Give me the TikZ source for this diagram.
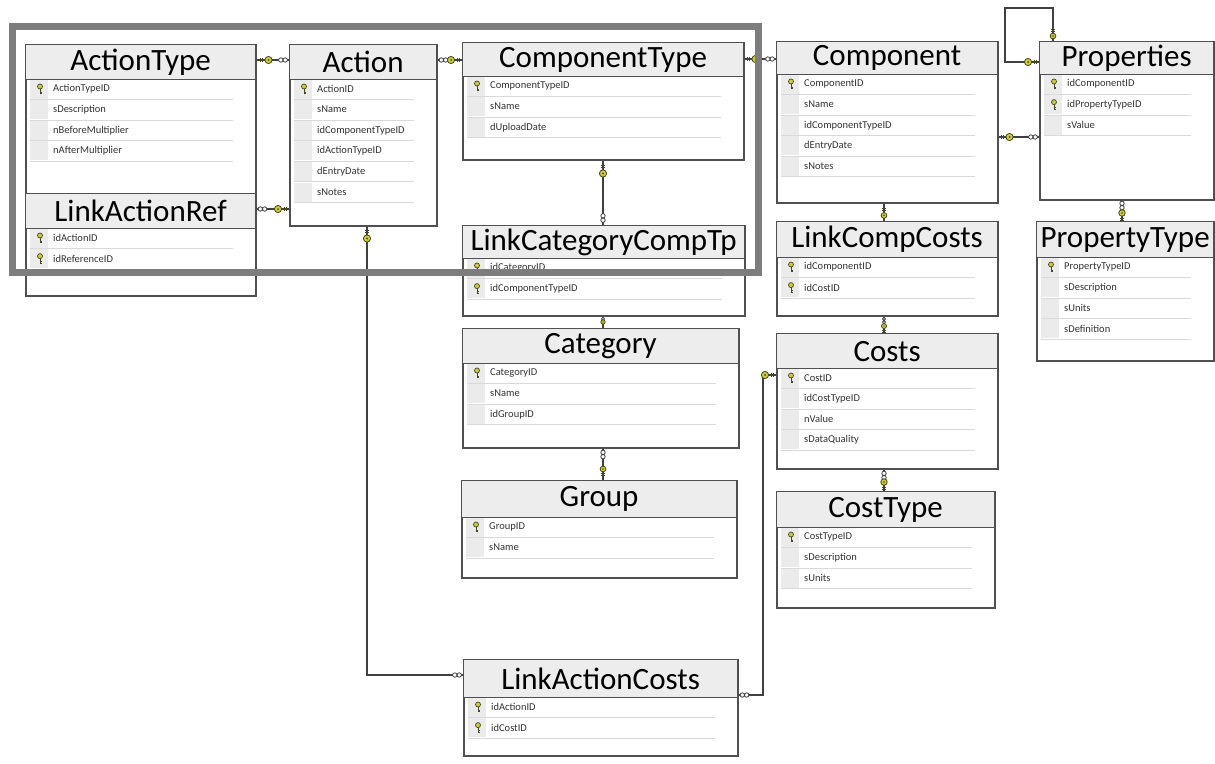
\documentclass[tikz,border=0pt]{standalone}
\usepackage{fontspec}
\setmainfont{Carlito}
\usetikzlibrary{calc}
\definecolor{bordc}{RGB}{80,80,80}
\definecolor{keyfill}{RGB}{205,205,55}
\definecolor{keyline}{RGB}{70,70,30}
\definecolor{framec}{RGB}{125,125,125}
\tikzset{
  tbody/.style={draw=bordc,line width=1.5pt,fill=white,inner sep=0pt,rectangle},
  thead/.style={draw=bordc,line width=1.2pt,fill=black!7,inner sep=0pt,rectangle,font=\fontsize{31}{31}\selectfont,text=black},
  rowtxt/.style={inner sep=0pt,font=\fontsize{10.5}{11}\selectfont,text=black!80},
  gutter/.style={fill=black!8},
  sepline/.style={draw=black!15,line width=0.6pt},
  conn/.style={draw=black!75,line width=1.2pt},
  frame/.style={draw=framec,line width=7pt},
  tkey/.pic={
    \draw[keyline,line width=0.8pt] (0,-1) -- (0,5) (0,3) -- (1.8,3) (0,4.6) -- (1.8,4.6);
    \filldraw[draw=keyline,fill=keyfill,line width=0.7pt] (0,-2.5) circle (2.5);
  },
  rkey/.pic={
    \draw[keyline,line width=0.9pt] (6,-2.3) -- (6,2.3) (8.5,-2.3) -- (8.5,2.3);
    \filldraw[draw=keyline,fill=keyfill,line width=0.8pt] (0,0) circle (3.6);
    \fill[keyline] (0,0) circle (1);
  },
  rinf/.pic={
    \filldraw[draw=black!75,fill=white,line width=0.8pt] (-2.2,0) circle (2.2) (2.2,0) circle (2.2);
  }
}
% #1 name, #2 x1, #3 y1, #4 x2, #5 y2, #6 title bottom, #7 title, #8 rows
\newcommand\ertable[8]{%
  \pgfmathsetmacro\tabw{#4-#2}%
  \pgfmathsetmacro\tabh{#5-#3}%
  \pgfmathsetmacro\headh{#6-#3}%
  \node[tbody,minimum width=\tabw pt,minimum height=\tabh pt,anchor=north west] (#1) at (#2,#3) {};
  \foreach \f/\t [count=\i] in {#8} {
    \pgfmathsetmacro\ry{#6+10+(\i-1)*20.6}
    \fill[gutter] (#2+5,\ry-9.5) rectangle (#2+23,\ry+9.5);
    \draw[sepline] (#2+5,\ry+10.3) -- (#4-22,\ry+10.3);
    \node[rowtxt,anchor=west] (#1-r\i) at (#2+28,\ry) {\t};
    \ifnum\f=1 \pic at (#2+15,\ry) {tkey};\fi
  }
  \node[thead,minimum width=\tabw pt,minimum height=\headh pt,anchor=north west] (#1-h) at (#2,#3) {#7};
}
\begin{document}
\begin{tikzpicture}[x=1pt,y=-1pt]
\fill[white] (0,0) rectangle (1215,763);
\useasboundingbox (0,0) rectangle (1215,763);

\ertable{ActionType}{25}{44}{255}{193}{79}{ActionType}{1/ActionTypeID,0/sDescription,0/nBeforeMultiplier,0/nAfterMultiplier}
\ertable{LinkActionRef}{25}{193}{255}{295}{228}{LinkActionRef}{1/idActionID,1/idReferenceID}
\ertable{Action}{289}{44}{436}{225}{79}{Action}{1/ActionID,0/sName,0/idComponentTypeID,0/idActionTypeID,0/dEntryDate,0/sNotes}
\ertable{ComponentType}{462}{42}{743}{159}{76}{ComponentType}{1/ComponentTypeID,0/sName,0/dUploadDate}
\ertable{LinkCategoryCompTp}{462}{225}{744}{315}{258}{LinkCategoryCompTp}{1/idCategoryID,1/idComponentTypeID}
\ertable{Category}{462}{328}{738}{447}{363}{Category}{1/CategoryID,0/sName,0/idGroupID}
\ertable{Group}{461}{480}{736}{577}{517}{Group}{1/GroupID,0/sName}
\ertable{LinkActionCosts}{463}{659}{737}{755}{697}{LinkActionCosts}{1/idActionID,1/idCostID}
\ertable{Component}{776}{41}{997}{202}{74}{Component}{1/ComponentID,0/sName,0/idComponentTypeID,0/dEntryDate,0/sNotes}
\ertable{Properties}{1039}{41}{1213}{199}{74}{Properties}{1/idComponentID,1/idPropertyTypeID,0/sValue}
\ertable{LinkCompCosts}{776}{221}{997}{315}{257}{LinkCompCosts}{1/idComponentID,1/idCostID}
\ertable{PropertyType}{1036}{221}{1213}{360}{257}{PropertyType}{1/PropertyTypeID,0/sDescription,0/sUnits,0/sDefinition}
\ertable{Costs}{776}{333}{997}{468}{368}{Costs}{1/CostID,0/idCostTypeID,0/nValue,0/sDataQuality}
\ertable{CostType}{776}{491}{994}{607}{527}{CostType}{1/CostTypeID,0/sDescription,0/sUnits}

% connectors
\draw[conn] ($(ActionType.north east)+(0,16)$) -- ($(Action.north west)+(0,16)$);
\pic[rotate=180] at ($(ActionType.north east)+(12,16)$) {rkey};
\pic at ($(Action.north west)+(-6,16)$) {rinf};

\draw[conn] ($(Action.north east)+(0,16)$) -- ($(ComponentType.north west)+(0,18)$);
\pic at ($(Action.north east)+(6,16)$) {rinf};
\pic at ($(ComponentType.north west)+(-11,18)$) {rkey};

\draw[conn] ($(LinkActionRef.north east)+(0,16)$) -- ($(Action.north west)+(0,165)$);
\pic at ($(LinkActionRef.north east)+(6,16)$) {rinf};
\pic at ($(Action.north west)+(-11,165)$) {rkey};

\draw[conn] ($(ComponentType.north east)+(0,17)$) -- ($(Component.north west)+(0,18)$);
\pic[rotate=180] at ($(ComponentType.north east)+(11,17)$) {rkey};
\pic at ($(Component.north west)+(-6,18)$) {rinf};

\draw[conn] ($(ComponentType.south west)+(141,0)$) -- ($(LinkCategoryCompTp.north west)+(141,0)$);
\pic[rotate=90] at ($(ComponentType.south west)+(141,13)$) {rkey};
\pic[rotate=90] at ($(LinkCategoryCompTp.north west)+(141,-7)$) {rinf};

\draw[conn] ($(LinkCategoryCompTp.south west)+(141,0)$) -- ($(Category.north west)+(141,0)$);
\pic[rotate=90,scale=0.7] at ($(LinkCategoryCompTp.south west)+(141,4)$) {rinf};
\pic[rotate=-90,scale=0.6] at ($(Category.north west)+(141,-6)$) {rkey};

\draw[conn] ($(Category.south west)+(141,0)$) -- ($(Group.north west)+(142,0)$);
\pic[rotate=90] at ($(Category.south west)+(141,6)$) {rinf};
\pic[rotate=-90,scale=0.8] at ($(Group.north west)+(142,-11)$) {rkey};

\draw[conn] ($(Component.north east)+(0,96)$) -- ($(Properties.north west)+(0,96)$);
\pic[rotate=180] at ($(Component.north east)+(11,96)$) {rkey};
\pic at ($(Properties.north west)+(-6,96)$) {rinf};

\draw[conn] ($(Properties.north west)+(14,0)$) -- ++(0,-33) -- ++(-48,0) -- ++(0,54) -- ($(Properties.north west)+(0,21)$);
\pic at ($(Properties.north west)+(-11,21)$) {rkey};
\pic[rotate=90,scale=0.8] at ($(Properties.north west)+(14,-5)$) {rkey};

\draw[conn] ($(Component.south west)+(108,0)$) -- ($(LinkCompCosts.north west)+(108,0)$);
\pic[rotate=90,scale=0.8] at ($(Component.south west)+(108,12)$) {rkey};

\draw[conn] ($(Properties.south west)+(83,0)$) -- ($(PropertyType.north west)+(86,0)$);
\pic[rotate=90] at ($(Properties.south west)+(83,5)$) {rinf};
\pic[rotate=-90,scale=0.9] at ($(PropertyType.north west)+(86,-8)$) {rkey};

\draw[conn] ($(LinkCompCosts.south west)+(108,0)$) -- ($(Costs.north west)+(108,0)$);
\pic[rotate=90,scale=0.7] at ($(LinkCompCosts.south west)+(108,4)$) {rinf};
\pic[rotate=-90,scale=0.7] at ($(Costs.north west)+(108,-7)$) {rkey};

\draw[conn] ($(Costs.south west)+(108,0)$) -- ($(CostType.north west)+(108,0)$);
\pic[rotate=90] at ($(Costs.south west)+(108,6)$) {rinf};
\pic[rotate=-90,scale=0.9] at ($(CostType.north west)+(108,-9)$) {rkey};

\draw[conn] ($(Action.south west)+(78,0)$) |- ($(LinkActionCosts.north west)+(0,16)$);
\pic[rotate=90] at ($(Action.south west)+(78,12)$) {rkey};
\pic at ($(LinkActionCosts.north west)+(-6,16)$) {rinf};

\draw[conn] ($(Costs.north west)+(0,42)$) -- ++(-13,0) |- ($(LinkActionCosts.north east)+(0,36)$);
\pic at ($(Costs.north west)+(-11,42)$) {rkey};
\pic[rotate=180] at ($(LinkActionCosts.north east)+(6,36)$) {rinf};

% highlight frame
\draw[frame] (12,26) rectangle (758,272);
\end{tikzpicture}
\end{document}
